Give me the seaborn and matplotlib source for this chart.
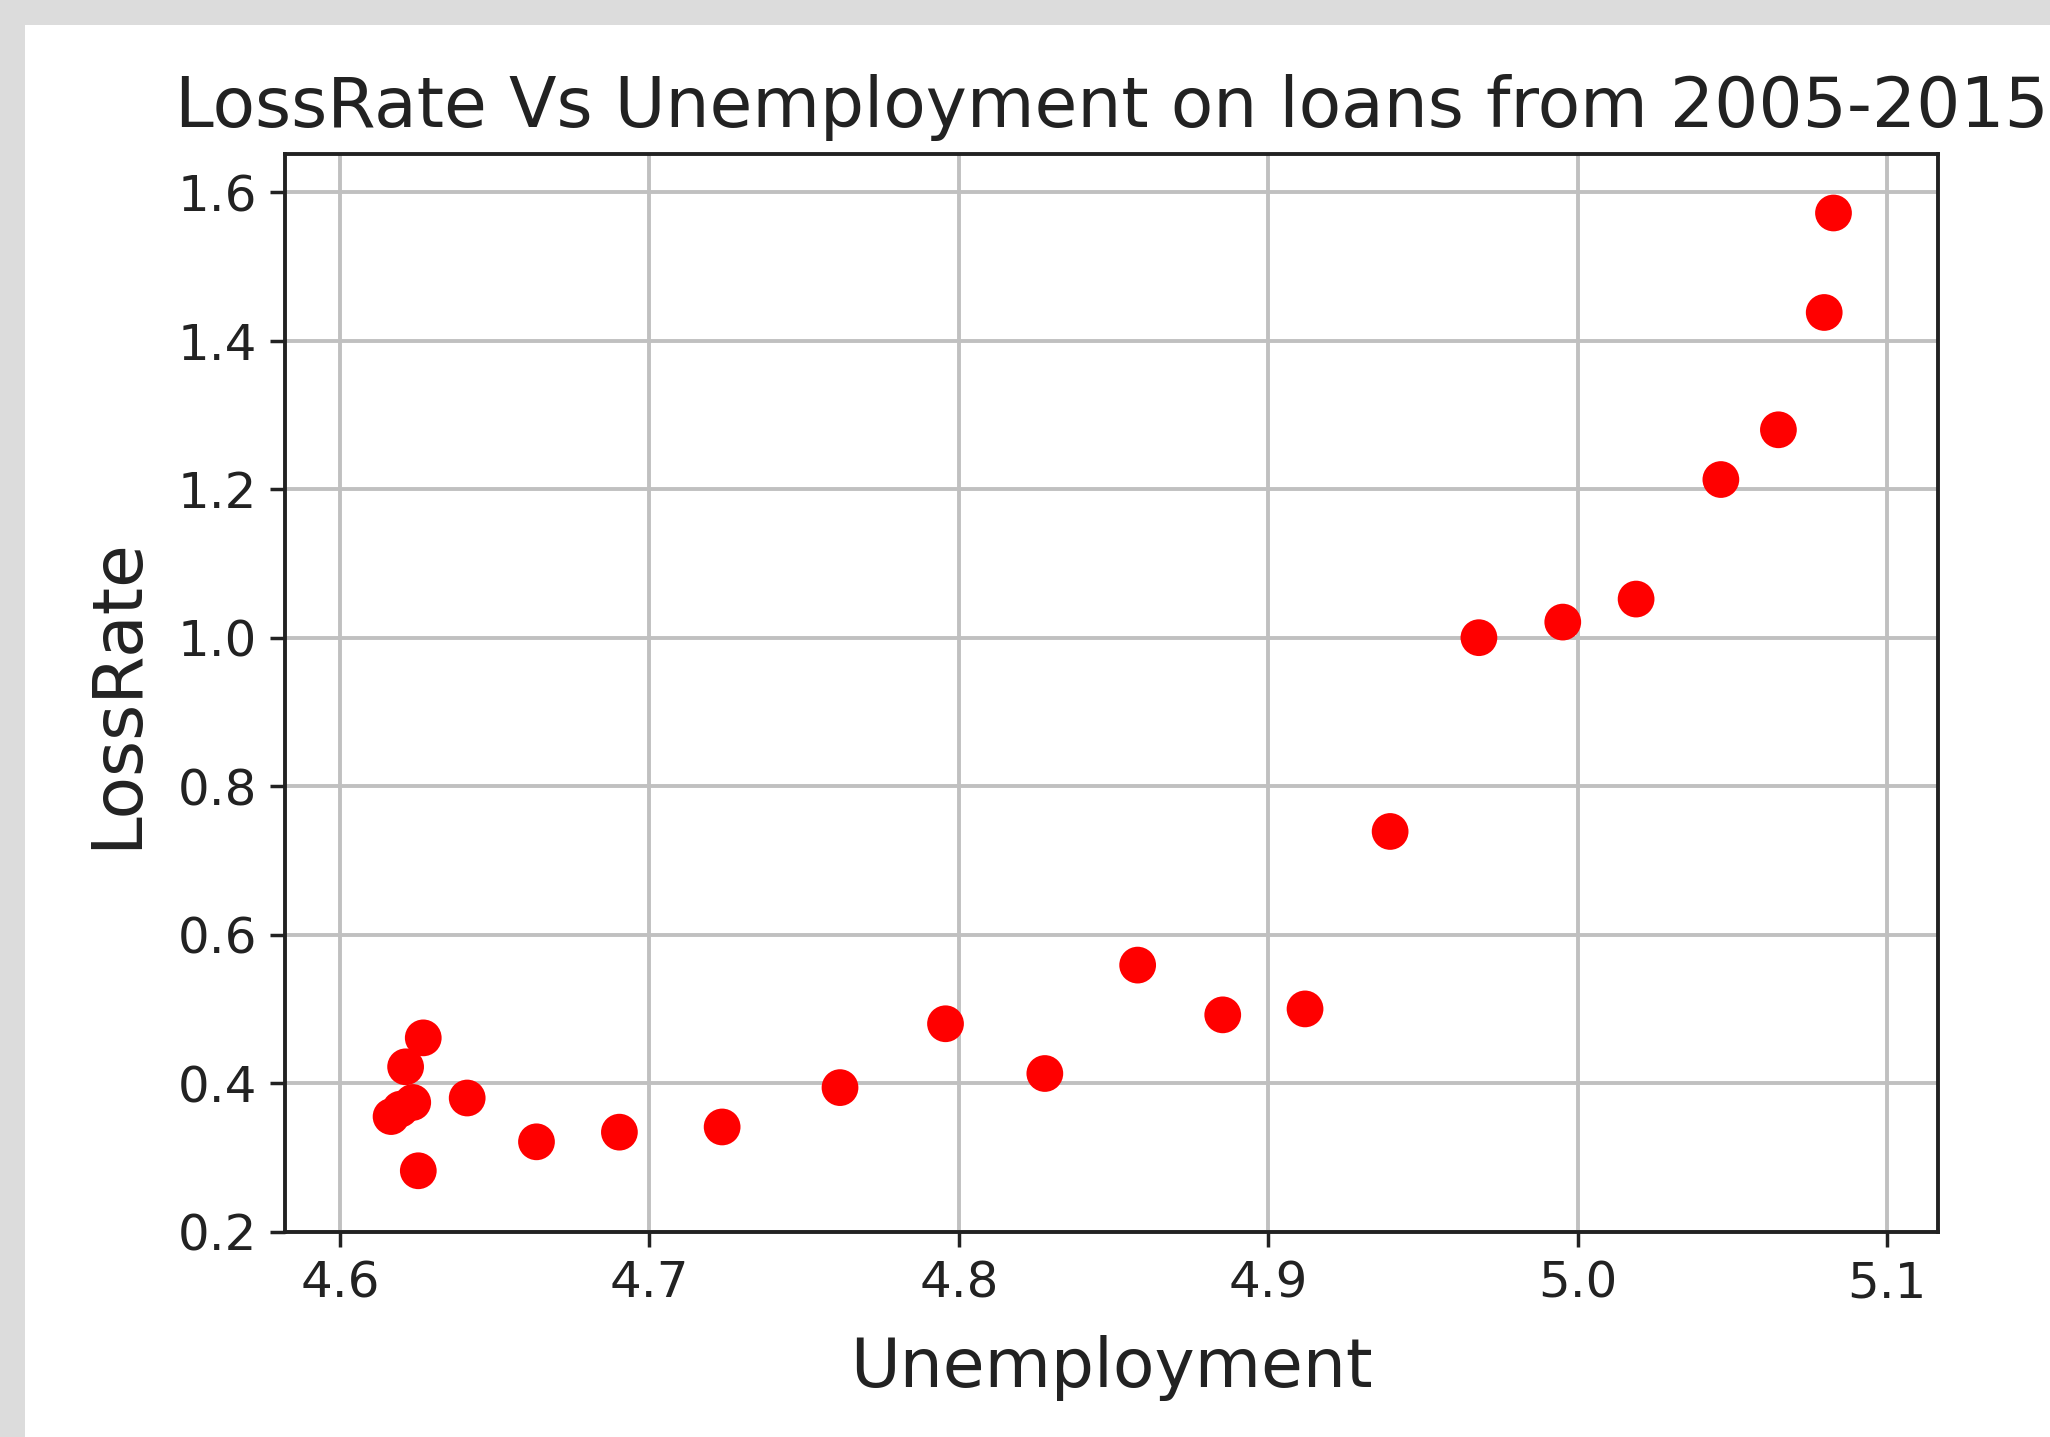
import numpy as np
import pandas as pd
import seaborn as sns
import matplotlib.pyplot as plt
from matplotlib.patches import Rectangle

# unemployment vs loss rate
unemployment = [5.0827, 5.0797, 5.0649, 5.0463, 5.0189, 4.9952, 4.9681, 4.9394,
                4.9119, 4.8853, 4.8578, 4.8278, 4.7957, 4.7616, 4.7235, 4.6903,
                4.6635, 4.6411, 4.6269, 4.6212, 4.6235, 4.6195, 4.6165, 4.6253]
loss_rate = [1.572, 1.438, 1.280, 1.213, 1.052, 1.021, 1.000, 0.739,
             0.500, 0.492, 0.559, 0.413, 0.480, 0.394, 0.341, 0.334,
             0.321, 0.380, 0.461, 0.422, 0.374, 0.365, 0.355, 0.282]

x_ticks = [4.6, 4.7, 4.8, 4.9, 5.0, 5.1]
y_ticks = [0.2, 0.4, 0.6, 0.8, 1.0, 1.2, 1.4, 1.6]

df = pd.DataFrame({'Unemployment': unemployment, 'LossRate': loss_rate})

sns.set_style('ticks', {'axes.grid': True, 'grid.color': '#c0c0c0',
                        'axes.edgecolor': '#222222'})
plt.rcParams['font.family'] = ['DejaVu Sans']

fig = plt.figure(figsize=(20.5, 14.37), dpi=100, facecolor='#dcdcdc')
# white canvas with the grey strip on top and left
fig.patches.append(Rectangle((25 / 2050, 0), 1, 1 - 25 / 1437, transform=fig.transFigure,
                             facecolor='white', edgecolor='none', zorder=-10))

ax = fig.add_axes([0.139, 0.1429, 0.8064, 0.7497])
sns.scatterplot(data=df, x='Unemployment', y='LossRate', color='red',
                edgecolor='none', s=700, ax=ax, zorder=3)

ax.set_xlim(4.5822, 5.1165)
ax.set_ylim(0.2, 1.651)
ax.set_xticks(x_ticks)
ax.set_xticklabels([f'{v:.1f}' for v in x_ticks])
ax.set_yticks(y_ticks)
ax.set_yticklabels([f'{v:.1f}' for v in y_ticks])
ax.grid(True, color='#c0c0c0', linewidth=2.8)
ax.set_axisbelow(True)
for sp in ax.spines.values():
    sp.set_linewidth(2.8)
    sp.set_color('#222222')
ax.tick_params(length=11, width=2.5, pad=9, labelsize=36, colors='#222222')

ax.set_title('LossRate Vs Unemployment on loans from 2005-2015', fontsize=50,
             color='#222222', pad=20)
ax.set_xlabel('Unemployment', fontsize=49, color='#222222', labelpad=20)
ax.set_ylabel('LossRate', fontsize=50, color='#222222', labelpad=20)

fig.savefig('out.png', dpi=100, facecolor=fig.get_facecolor())
